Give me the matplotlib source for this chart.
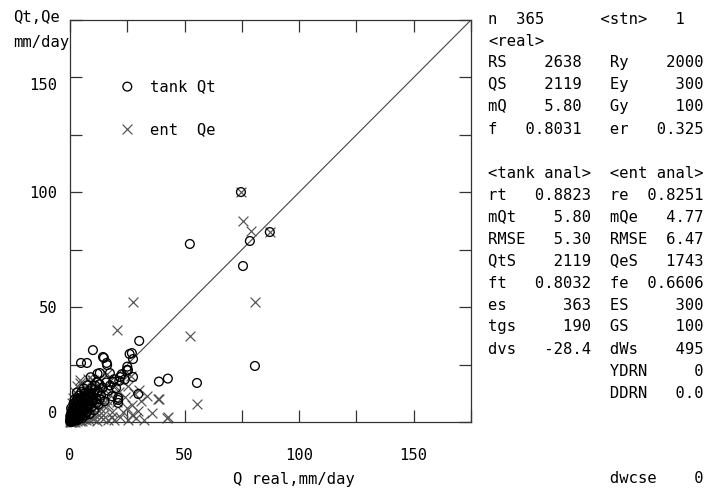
import numpy as np
import matplotlib
matplotlib.use("Agg")
from matplotlib import pyplot as plt
from matplotlib import transforms
from matplotlib.ticker import MultipleLocator, FixedLocator, FixedFormatter

W, H = 708, 490
FONT = "DejaVu Sans Mono"
FS = 11.2

# tank Qt (circles): Q real vs Qt
tank_x = [74.6, 78.5, 87.2, 52.3, 75.5, 80.7, 42.7, 38.8, 55.4, 30.2, 27.0, 27.5,
          14.8, 16.2, 24.8, 27.5, 29.8, 21.0, 21.0, 10.0, 4.8, 7.4, 14.4, 16.0,
          26.0, 17.4, 13.0, 25.3, 21.8, 18.8, 11.8, 21.0,
          0.1, 0.2, 0.3, 0.4, 0.5, 0.6, 0.7, 0.8, 0.9, 1.0,
          1.1, 1.2, 1.3, 1.4, 1.5, 1.6, 1.7, 1.8, 1.9, 2.0,
          2.1, 2.2, 2.4, 2.5, 2.6, 2.8, 2.9, 3.0, 3.2, 3.3,
          3.5, 3.6, 3.8, 3.9, 4.1, 4.2, 4.4, 4.6, 4.7, 4.9,
          5.1, 5.3, 5.5, 5.7, 5.9, 6.1, 6.3, 6.6, 6.8, 7.0,
          7.3, 7.5, 7.8, 8.0, 8.3, 8.6, 8.9, 9.2, 9.5, 9.8,
          10.2, 10.6, 11.0, 11.4, 11.9, 12.4, 12.9, 13.5, 14.2, 15.0,
          15.8, 16.7, 17.5, 18.3, 19.2, 20.1, 21.5, 22.6, 23.9, 25.0,
          0.2, 0.5, 0.9, 1.3, 1.8, 2.3, 2.7, 3.2, 0.6, 1.1,
          0.3, 1.6, 2.0, 4.0, 5.0, 6.0, 3.0, 7.5, 9.0, 12.0,
          0.1, 0.3, 0.4, 0.6, 0.8, 1.0, 1.2, 1.4, 1.5, 1.7,
          1.9, 2.1, 2.3, 2.5, 2.7, 3.0, 3.1, 3.4, 3.7, 4.0,
          4.3, 4.6, 4.8, 5.2, 5.6, 6.0, 6.4, 6.9, 7.3, 7.8,
          8.2, 8.8, 9.4, 10.0, 10.8, 11.5, 12.2, 13.0, 0.2, 0.5]
tank_y = [100.1, 78.8, 82.7, 77.5, 67.9, 24.4, 18.9, 17.6, 17.0, 35.3, 30.0, 27.4,
          27.9, 24.8, 22.6, 19.6, 12.2, 10.5, 8.3, 31.3, 25.7, 25.7, 28.3, 25.7,
          29.6, 21.3, 21.3, 22.6, 19.6, 17.4, 17.4, 9.6,
          0.2, 0.5, 0.1, 0.8, 0.3, 1.2, 0.6, 0.2, 1.5, 0.9,
          2.0, 0.4, 1.1, 2.6, 0.7, 1.8, 3.1, 0.5, 2.3, 1.4,
          3.8, 0.9, 2.7, 4.5, 1.6, 3.3, 5.2, 2.1, 0.8, 4.0,
          6.1, 2.8, 1.3, 4.9, 7.0, 3.5, 5.6, 2.2, 8.2, 4.3,
          6.5, 1.7, 9.3, 3.9, 7.4, 5.2, 10.6, 2.9, 8.5, 6.0,
          12.1, 4.4, 9.6, 7.1, 13.4, 3.5, 10.8, 6.4, 14.6, 8.9,
          12.3, 5.1, 15.8, 10.1, 13.0, 7.6, 16.5, 11.4, 15.0, 9.0,
          17.2, 13.6, 15.9, 11.2, 18.6, 14.8, 17.9, 20.8, 18.5, 24.1,
          1.0, 2.2, 3.4, 4.6, 6.0, 7.3, 8.8, 10.2, 4.1, 5.5,
          3.0, 8.0, 9.8, 11.5, 13.0, 14.6, 12.8, 16.0, 19.5, 21.0,
          0.6, 1.8, 0.3, 0.1, 2.7, 0.3, 3.6, 1.5, 5.0, 0.9,
          4.3, 2.5, 6.5, 1.1, 4.8, 7.6, 3.0, 5.8, 8.9, 1.9,
          6.9, 9.8, 3.2, 11.0, 5.9, 8.0, 12.5, 4.0, 10.2, 6.5,
          11.8, 8.0, 12.0, 9.5, 14.0, 8.2, 13.5, 10.0, 2.5, 6.0]

# ent Qe (crosses): Q real vs Qe
ent_x = [74.6, 75.5, 79.0, 87.2, 80.7, 52.3, 55.4, 42.7, 39.0, 27.5, 20.4, 30.2,
         38.4, 27.0, 4.4, 9.6, 16.0, 24.8, 14.4, 18.4, 21.8, 29.0, 42.3, 27.0, 36.0,
         0.1, 0.2, 0.3, 0.4, 0.5, 0.6, 0.7, 0.8, 0.9, 1.0,
         1.1, 1.2, 1.4, 1.5, 1.6, 1.8, 1.9, 2.0, 2.2, 2.3,
         2.5, 2.7, 2.8, 3.0, 3.2, 3.4, 3.6, 3.8, 4.0, 4.2,
         4.5, 4.7, 4.9, 5.2, 5.4, 5.7, 6.0, 6.3, 6.6, 6.9,
         7.2, 7.6, 7.9, 8.3, 8.7, 9.1, 9.6, 10.1, 10.6, 11.2,
         11.8, 12.5, 13.2, 14.0, 14.8, 15.6, 16.5, 17.4, 18.3, 19.3,
         20.4, 21.5, 22.8, 24.0, 25.5, 26.5, 28.0, 29.5, 31.0, 33.5,
         2.2, 4.4, 1.5, 3.0, 0.8, 6.5, 8.0, 10.0, 12.8, 16.0,
         0.2, 0.4, 0.5, 0.7, 0.9, 1.1, 1.3, 1.6, 1.8, 2.0,
         2.4, 2.6, 2.9, 3.1, 3.3, 3.7, 4.1, 4.4, 4.8, 5.1,
         5.5, 5.9, 6.2, 6.7, 7.1, 7.5, 8.0, 8.5, 9.0, 9.4,
         10.3, 11.0, 12.0, 13.0, 14.5, 16.8, 19.0, 23.0, 25.5, 32.5]
ent_y = [100.1, 87.5, 83.0, 82.7, 52.2, 37.4, 7.8, 2.2, 10.0, 52.2, 40.0, 13.9,
         10.0, 7.4, 18.3, 18.3, 9.6, 6.0, 1.5, 2.2, 2.2, 1.7, 1.7, 3.0, 4.0,
         0.1, 0.4, 0.0, 0.7, 0.2, 1.0, 0.3, 1.4, 0.5, 1.9,
         0.8, 2.5, 0.2, 3.2, 1.1, 4.0, 0.6, 2.2, 5.1, 1.5,
         3.0, 6.4, 0.9, 4.2, 2.0, 7.5, 1.2, 5.3, 3.1, 8.7,
         0.4, 6.2, 2.6, 10.0, 4.5, 1.3, 7.8, 3.6, 11.4, 5.7,
         0.8, 9.0, 2.4, 6.6, 12.8, 4.1, 8.3, 1.5, 11.2, 5.9,
         14.5, 3.2, 9.4, 12.0, 6.8, 15.1, 1.0, 11.8, 4.3, 16.3,
         8.5, 13.2, 17.8, 10.8, 15.5, 20.2, 12.5, 5.0, 9.0, 11.5,
         13.0, 17.0, 10.5, 15.6, 8.2, 15.3, 18.6, 18.3, 18.8, 21.0,
         1.2, 2.0, 3.5, 2.6, 4.8, 3.7, 6.0, 5.2, 7.1, 0.1,
         8.2, 4.6, 9.5, 0.5, 6.8, 11.0, 5.0, 1.0, 9.2, 0.6,
         7.0, 12.2, 1.8, 8.8, 13.5, 3.0, 10.5, 0.7, 14.0, 6.0,
         3.5, 9.0, 0.6, 6.0, 3.0, 7.5, 0.9, 4.5, 0.8, 1.0]

# statistics panel, one string per row (monospace grid)
panel_rows = [
    "n  365      <stn>   1",
    "<real>",
    "RS    2638   Ry    2000",
    "QS    2119   Ey     300",
    "mQ    5.80   Gy     100",
    "f   0.8031   er   0.325",
    "",
    "<tank anal>  <ent anal>",
    "rt   0.8823  re  0.8251",
    "mQt    5.80  mQe   4.77",
    "RMSE   5.30  RMSE  6.47",
    "QtS    2119  QeS   1743",
    "ft   0.8032  fe  0.6606",
    "es      363  ES     300",
    "tgs     190  GS     100",
    "dvs   -28.4  dWs    495",
    "             YDRN     0",
    "             DDRN   0.0",
]
last_row = "             dwcse    0"

ticks = [0, 25, 50, 75, 100, 125, 150, 175]
tick_labels = ["0", "", "50", "", "100", "", "150", ""]


def fx(px):
    return px / W


def fy(py):
    return 1 - py / H


fig = plt.figure(figsize=(W / 100, H / 100), dpi=100)
ax = fig.add_axes([fx(70), fy(422), (471 - 70) / W, (422 - 20) / H])

ax.plot([0, 175], [0, 175], color="#444444", lw=0.8, zorder=1)
ax.scatter(ent_x, ent_y, marker="x", s=50, color="#505050", linewidths=0.85,
           zorder=2, clip_on=False)
ax.scatter(tank_x, tank_y, marker="o", s=40, facecolors="none",
           edgecolors="black", linewidths=0.95, zorder=3, clip_on=False)

ax.set_xlim(0, 175)
ax.set_ylim(0, 175)
for sp in ax.spines.values():
    sp.set_color("#333333")
    sp.set_linewidth(0.9)

ax.xaxis.set_major_locator(FixedLocator(ticks))
ax.yaxis.set_major_locator(FixedLocator(ticks))
ax.xaxis.set_major_formatter(FixedFormatter(tick_labels))
ax.yaxis.set_major_formatter(FixedFormatter(tick_labels))
ax.tick_params(direction="in", length=8.5, width=0.9, color="#333333",
               top=True, right=True, labelsize=FS)
ax.tick_params(axis="x", pad=19)
ax.tick_params(axis="y", pad=9)
for t in ax.get_xticklabels() + ax.get_yticklabels():
    t.set_fontfamily(FONT)

# the y labels "0" and "150" sit off their ticks in the original
shifts = {0: 10, 150: -7}
for tk, v in zip(ax.yaxis.get_major_ticks(), ticks):
    if v in shifts:
        off = transforms.ScaledTranslation(0, shifts[v] / 100, fig.dpi_scale_trans)
        tk.label1.set_transform(tk.label1.get_transform() + off)

# legend
ax.scatter([25], [146], marker="o", s=40, facecolors="none",
           edgecolors="black", linewidths=0.95)
ax.scatter([25], [127.5], marker="x", s=50, color="#505050", linewidths=0.85)
ax.text(35, 146, "tank Qt", fontsize=FS, family=FONT, va="center")
ax.text(35, 127.5, "ent  Qe", fontsize=FS, family=FONT, va="center")

# axis titles
fig.text(fx(13), fy(18), "Qt,Qe", fontsize=FS, family=FONT, va="center")
fig.text(fx(13), fy(42), "mm/day", fontsize=FS, family=FONT, va="center")
fig.text(fx(233), fy(479), "Q real,mm/day", fontsize=FS, family=FONT,
         va="center")

for i, row in enumerate(panel_rows):
    fig.text(fx(488), fy(19 + 22.0 * i), row, fontsize=FS, family=FONT,
             va="center")
fig.text(fx(488), fy(478), last_row, fontsize=FS, family=FONT, va="center")

fig.savefig("out.png", dpi=100)
